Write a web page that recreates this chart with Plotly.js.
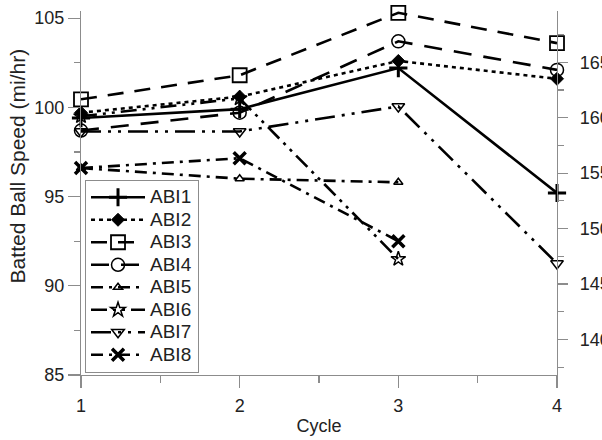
<!DOCTYPE html>
<html>
<head>
<meta charset="utf-8">
<script src="https://cdn.plot.ly/plotly-3.0.1.min.js"></script>
<style>html,body{margin:0;padding:0;background:#fff;}#chart{width:602px;height:440px;}</style>
</head>
<body>
<div id="chart"></div>
<script>
var cycles = [1, 2, 3, 4];
var seriesNames = ["ABI1", "ABI2", "ABI3", "ABI4", "ABI5", "ABI6", "ABI7", "ABI8"];
var ABI1 = [99.4, 99.9, 102.2, 95.2];
var ABI2 = [99.7, 100.6, 102.6, 101.6];
var ABI3 = [100.45, 101.8, 105.3, 103.6];
var ABI4 = [98.7, 99.7, 103.7, 102.1];
var ABI5 = [96.6, 96.0, 95.8, null];
var ABI6 = [99.5, 100.5, 91.5, null];
var ABI7 = [98.65, 98.65, 100.05, 91.25];
var ABI8 = [96.6, 97.15, 92.5, null];
var leftTicks = [85, 90, 95, 100, 105];
var rightTicks = [140, 145, 150, 155, 160, 165];
var MPH_TO_KMH = 1.609344;

var yMin = 85, yMax = 105.4;
var seriesValues = [ABI1, ABI2, ABI3, ABI4, ABI5, ABI6, ABI7, ABI8];
var styles = [
  {dash: "solid", symbol: "cross-thin", size: 13, mlw: 3},
  {dash: "4px,4px", symbol: "diamond", size: 10, mlw: 1},
  {dash: "16px,11px", symbol: "square-open", size: 14, mlw: 1.8},
  {dash: "18px,12px", symbol: "circle-open", size: 13, mlw: 1.5},
  {dash: "12px,6px,3px,6px", symbol: "triangle-up-open", size: 8, mlw: 1.5},
  {dash: "16px,6px,3px,6px,3px,6px", symbol: "star-open", size: 11, mlw: 1.5},
  {dash: "20px,7px,3px,7px,3px,7px", symbol: "triangle-down-open", size: 11, mlw: 1.5},
  {dash: "12px,6px,3px,6px", symbol: "x-thin", size: 12, mlw: 3.5}
];

var traces = seriesNames.map(function (name, i) {
  var s = styles[i];
  return {
    x: cycles, y: seriesValues[i],
    name: '<span style="font-size:19px">' + name + '</span>',
    type: "scatter", mode: "lines+markers",
    cliponaxis: false,
    line: {color: "#000", width: 2.6, dash: s.dash},
    marker: {symbol: s.symbol, size: s.size, color: "#000", line: {color: "#000", width: s.mlw}}
  };
});
// invisible trace so the right-hand (km/hr) axis is drawn
traces.push({x: [1], y: [140], yaxis: "y2", mode: "markers", marker: {opacity: 0}, showlegend: false, hoverinfo: "skip"});

var axisColor = "#8c8c8c";
var family = "Liberation Sans, Arial, sans-serif";
var layout = {
  width: 602, height: 440,
  margin: {l: 81, r: 45, t: 11, b: 65},
  paper_bgcolor: "#fff", plot_bgcolor: "#fff",
  font: {family: family, size: 18, color: "#222"},
  showlegend: true,
  legend: {
    x: 0.008, y: 0.006, xanchor: "left", yanchor: "bottom",
    bgcolor: "#fff", bordercolor: "#8c8c8c", borderwidth: 1.2,
    font: {family: family, size: 15, color: "#222"},
    tracegroupgap: 0, itemwidth: 54
  },
  xaxis: {
    range: [1, 4], tickvals: cycles, ticktext: cycles.map(String),
    showgrid: false, zeroline: false, showline: true, linecolor: axisColor, linewidth: 1.2,
    ticks: "outside", ticklen: 12, tickcolor: axisColor, tickwidth: 1.2,
    minor: {dtick: 0.5, ticks: "outside", ticklen: 7, tickcolor: axisColor, tickwidth: 1.2, showgrid: false},
    title: {text: "Cycle", font: {size: 18}, standoff: 4},
    ticklabelstandoff: 2
  },
  yaxis: {
    range: [yMin, yMax], tickvals: leftTicks, ticktext: leftTicks.map(String),
    showgrid: false, zeroline: false, showline: true, linecolor: axisColor, linewidth: 1.2,
    ticks: "outside", ticklen: 12, tickcolor: axisColor, tickwidth: 1.2,
    minor: {dtick: 2.5, tick0: 85, ticks: "outside", ticklen: 6, tickcolor: axisColor, tickwidth: 1.2, showgrid: false}
  },
  yaxis2: {
    overlaying: "y", side: "right", anchor: "x",
    range: [yMin * MPH_TO_KMH, yMax * MPH_TO_KMH], tickvals: rightTicks, ticktext: rightTicks.map(String),
    showgrid: false, zeroline: false, showline: true, linecolor: axisColor, linewidth: 1.2,
    ticks: "outside", ticklen: 10, tickcolor: axisColor, tickwidth: 1.2,
    minor: {dtick: 2.5, tick0: 137.5, ticks: "outside", ticklen: 6, tickcolor: axisColor, tickwidth: 1.2, showgrid: false},
    ticklabelstandoff: 8
  },
  annotations: [{
    text: "Batted Ball Speed (mi/hr)", textangle: -90,
    xref: "paper", yref: "paper", x: -0.133, y: 0.575, xanchor: "center", yanchor: "middle",
    showarrow: false, font: {family: family, size: 21, color: "#222"}
  }]
};

Plotly.newPlot("chart", traces, layout, {displayModeBar: false, staticPlot: true});
</script>
</body>
</html>
